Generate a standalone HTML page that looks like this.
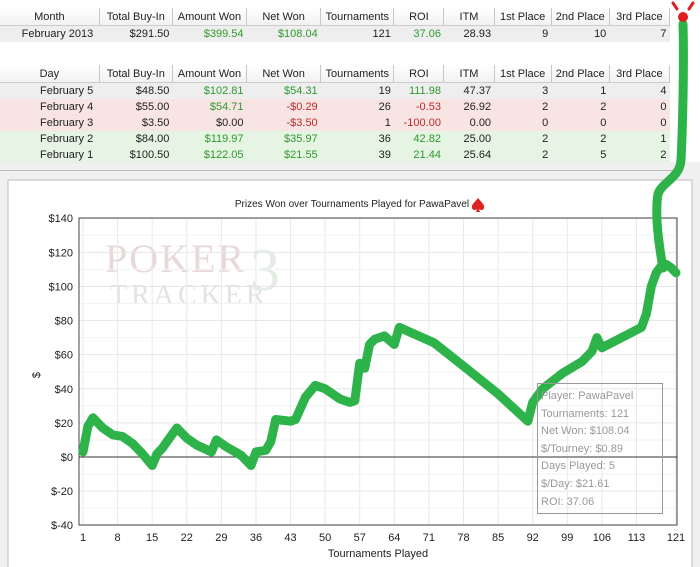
<!DOCTYPE html>
<html><head><meta charset="utf-8"><style>
body{margin:0;width:700px;height:567px;overflow:hidden;background:#fff;font-family:"Liberation Sans",sans-serif;position:relative}
table{position:absolute;left:0;border-collapse:collapse;font-size:11px;color:#222;table-layout:fixed}
td,th{padding:0 3px;height:16px;white-space:nowrap;overflow:hidden}
th{font-weight:normal;border-right:1px solid #c8c8c8;background:linear-gradient(#fff,#f2f2f2);border-bottom:1px solid #ccc;height:17px}
td{text-align:right}
td.l{text-align:right;padding-right:6px}
.g{color:#2e9a2e}.r{color:#c02828}
.gray td{background:#eeeeee}.pink td{background:#f9e4e4}.grn td{background:#e5f4e3}
</style></head><body>
<div style="position:absolute;left:0;top:162px;width:700px;height:405px;background:#f0f0f0"></div>
<table style="top:8px;width:670px">
<colgroup><col style="width:99px"><col style="width:73px"><col style="width:74px"><col style="width:74px"><col style="width:73px"><col style="width:50px"><col style="width:50px"><col style="width:57px"><col style="width:58px"><col style="width:60px"></colgroup>
<tr><th>Month</th><th>Total Buy-In</th><th>Amount Won</th><th>Net Won</th><th>Tournaments</th><th>ROI</th><th>ITM</th><th>1st Place</th><th>2nd Place</th><th>3rd Place</th></tr>
<tr class="gray"><td class="l">February 2013</td><td>$291.50</td><td class="g">$399.54</td><td class="g">$108.04</td><td>121</td><td class="g">37.06</td><td>28.93</td><td>9</td><td>10</td><td>7</td></tr>
</table>
<table style="top:65px;width:670px">
<colgroup><col style="width:99px"><col style="width:73px"><col style="width:74px"><col style="width:74px"><col style="width:73px"><col style="width:50px"><col style="width:50px"><col style="width:57px"><col style="width:58px"><col style="width:60px"></colgroup>
<tr><th>Day</th><th>Total Buy-In</th><th>Amount Won</th><th>Net Won</th><th>Tournaments</th><th>ROI</th><th>ITM</th><th>1st Place</th><th>2nd Place</th><th>3rd Place</th></tr>
<tr class="gray"><td class="l">February 5</td><td>$48.50</td><td class="g">$102.81</td><td class="g">$54.31</td><td>19</td><td class="g">111.98</td><td>47.37</td><td>3</td><td>1</td><td>4</td></tr>
<tr class="pink"><td class="l">February 4</td><td>$55.00</td><td class="g">$54.71</td><td class="r">-$0.29</td><td>26</td><td class="r">-0.53</td><td>26.92</td><td>2</td><td>2</td><td>0</td></tr>
<tr class="pink"><td class="l">February 3</td><td>$3.50</td><td>$0.00</td><td class="r">-$3.50</td><td>1</td><td class="r">-100.00</td><td>0.00</td><td>0</td><td>0</td><td>0</td></tr>
<tr class="grn"><td class="l">February 2</td><td>$84.00</td><td class="g">$119.97</td><td class="g">$35.97</td><td>36</td><td class="g">42.82</td><td>25.00</td><td>2</td><td>2</td><td>1</td></tr>
<tr class="grn"><td class="l">February 1</td><td>$100.50</td><td class="g">$122.05</td><td class="g">$21.55</td><td>39</td><td class="g">21.44</td><td>25.64</td><td>2</td><td>5</td><td>2</td></tr>
</table>
<div style="position:absolute;left:0;top:170px;width:680px;height:1px;background:#bbb"></div>
<svg id="chart" width="700" height="567" style="position:absolute;left:0;top:0" font-family="Liberation Sans, sans-serif">
<rect x="8" y="180" width="684" height="400" fill="#fff" stroke="#bbb"/>
<text x="352" y="207" font-size="10" text-anchor="middle" fill="#222">Prizes Won over Tournaments Played for PawaPavel</text>
<path d="M478 198 C474 203 471 205 472 208 C473 211 476 210 477 209 L476 212 L480 212 L479 209 C480 210 483 211 484 208 C485 205 482 203 478 198Z" fill="#d22"/>
<g fill="#e8d8d8" font-family="Liberation Serif, serif"><text x="105" y="272" font-size="40" letter-spacing="2">POKER</text><text x="110" y="304" font-size="28" fill="#e3e3e3" letter-spacing="4">TRACKER</text><text x="250" y="290" font-size="60" fill="#e4ece4">3</text></g>
<g id="grid"></g><g id="axes"></g><g id="series"></g>
</svg>
<div style="position:absolute;left:537px;top:383px;width:126px;height:131px;border:1px solid #999;font-size:11px;color:#999;line-height:17.6px;padding:4px 0 0 3px;box-sizing:border-box;white-space:nowrap">Player: PawaPavel<br>Tournaments: 121<br>Net Won: $108.04<br>$/Tourney: $0.89<br>Days Played: 5<br>$/Day: $21.61<br>ROI: 37.06</div>
<svg width="700" height="567" style="position:absolute;left:0;top:0;pointer-events:none">
<path d="M663 268 C658 240 655 212 658 194 C662 182 680 178 681 160 C683 120 684 60 683 24" fill="none" stroke="#2db34a" stroke-width="9" stroke-linecap="round"/>
<circle cx="683" cy="17" r="5" fill="#e02020"/>
<path d="M673 3 L677 9 M693 3 L689 9" stroke="#e02020" stroke-width="3" stroke-linecap="round"/>
</svg>
<script>
const tours=[1,2,3,5,7,9,11,13,15,16,17,19,20,22,24,27,28,30,33,35,36,38,39,40,43,44,46,48,50,53,55,56,57,58,59,60,62,64,65,72,79,85,91,92,94,98,102,104,105,106,110,114,115,116,117,118,119,120,121];
const netWon=[3,18,23,17,13,12,8,2,-5,2,5,13,17,11,7,3,10,6,1,-5,3,4,9,22,21,22,35,42,40,34,32,33,55,52,66,69,71,66,76,67,51,37,21,32,40,49,56,62,70,64,70,76,84,100,108,112,113,111,108];
const xTicks=[1,8,15,22,29,36,43,50,57,64,71,78,85,92,99,106,113,121];
const yTicks=[-40,-20,0,20,40,60,80,100,120,140];
const NS='http://www.w3.org/2000/svg';
const X0=79,X1=677,Y0=218,Y1=525;
const xS=t=>83+(t-1)*(676-83)/120;
const yS=v=>457-v*(Y1-Y0)/180;
function mk(tag,attrs,parent){const e=document.createElementNS(NS,tag);for(const k in attrs)e.setAttribute(k,attrs[k]);parent.appendChild(e);return e;}
const grid=document.getElementById('grid'),axes=document.getElementById('axes'),series=document.getElementById('series');
for(let v=-40;v<=140;v+=10){const l=mk('line',{x1:X0,x2:X1,y1:yS(v),y2:yS(v),stroke:v%20?'#f3f3f3':'#e6e6e6'},grid);

}
xTicks.forEach(t=>{const l=mk('line',{x1:xS(t),x2:xS(t),y1:Y0,y2:Y1,stroke:'#e8e8e8'},grid);


const tx=mk('text',{x:xS(t),y:541,'font-size':11,'text-anchor':'middle',fill:'#222'},axes);tx.textContent=t;

});
yTicks.forEach(v=>{const tx=mk('text',{x:73,y:yS(v)+4,'font-size':11,'text-anchor':'end',fill:'#222'},axes);tx.textContent=(v<0?'$-'+(-v):'$'+v);

});
const fr=mk('rect',{x:X0,y:Y0,width:X1-X0,height:Y1-Y0,fill:'none',stroke:'#444'},axes);


const zl=mk('line',{x1:X0,x2:X1,y1:yS(0),y2:yS(0),stroke:'#333'},axes);


const xt=mk('text',{x:378,y:557,'font-size':11,'text-anchor':'middle',fill:'#222'},axes);xt.textContent='Tournaments Played';


const yt=mk('text',{x:40,y:375,'font-size':11,'text-anchor':'middle',fill:'#222',transform:'rotate(-90 40 375)'},axes);yt.textContent='$';


const d=tours.map((t,i)=>(i?'L':'M')+xS(t).toFixed(1)+' '+yS(netWon[i]).toFixed(1)).join(' ');
const p=mk('path',{d:d,fill:'none',stroke:'#2db34a','stroke-width':9,'stroke-linejoin':'round','stroke-linecap':'round'},series);


</script>
</body></html>
